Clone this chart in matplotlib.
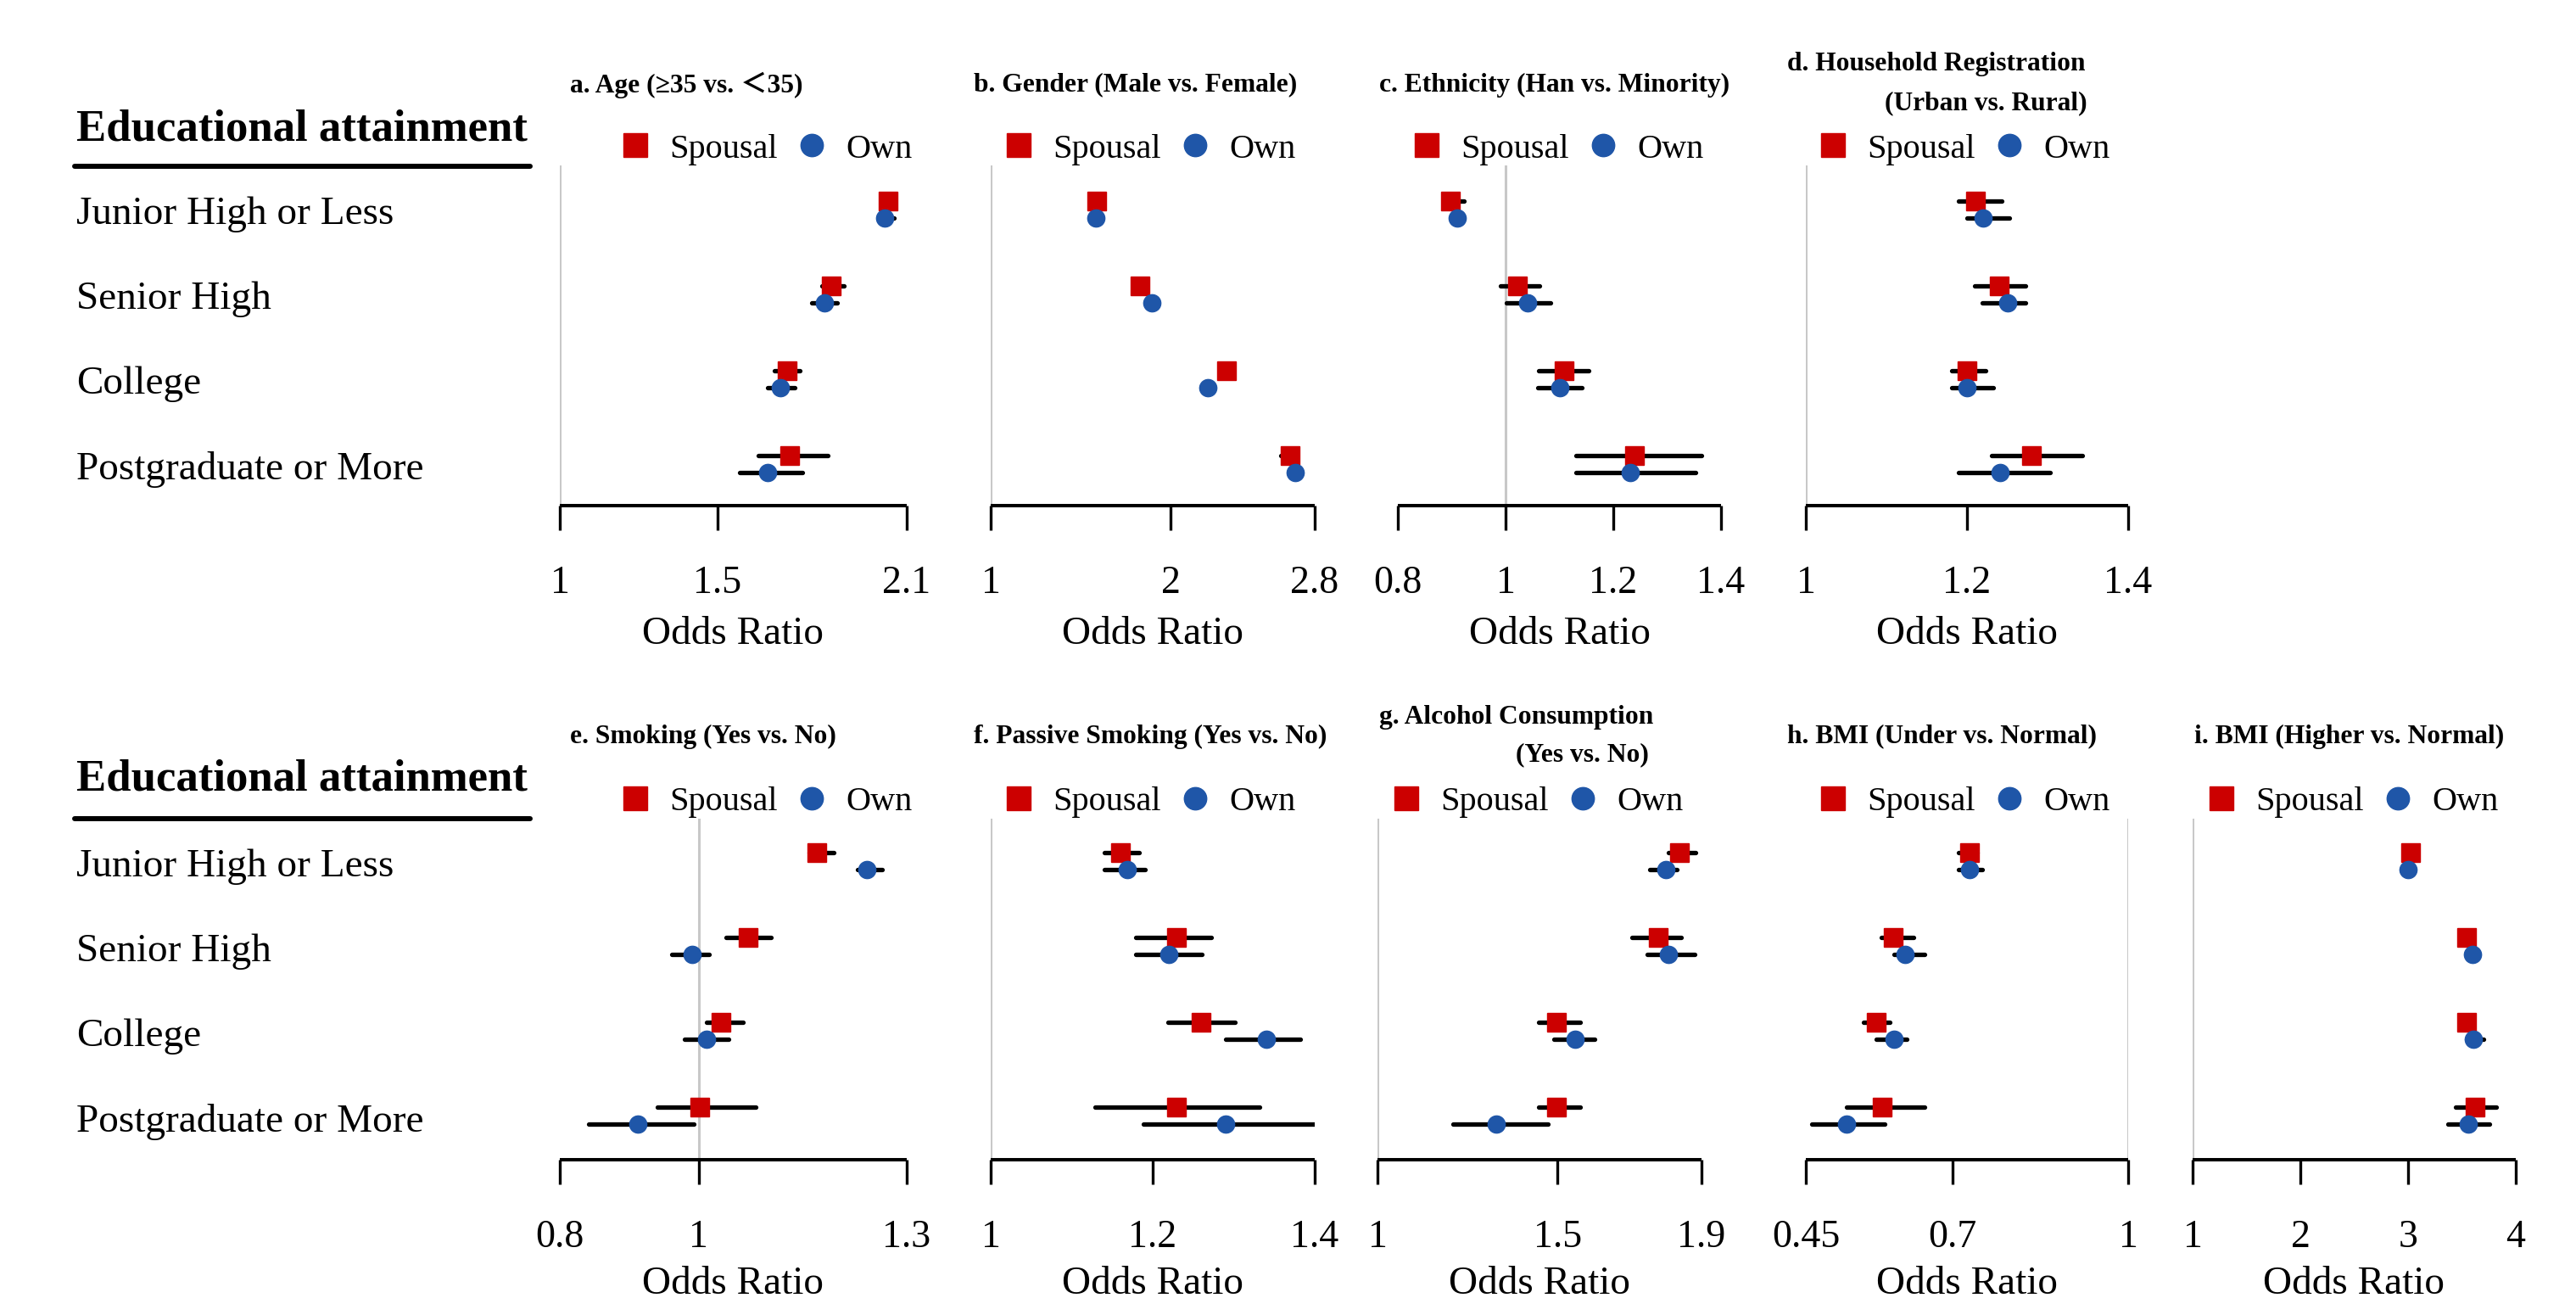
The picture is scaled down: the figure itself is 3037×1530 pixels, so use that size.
import matplotlib
matplotlib.use('Agg')
import matplotlib.pyplot as plt
from matplotlib.lines import Line2D

plt.rcParams['font.family'] = ['Liberation Serif', 'Noto Sans CJK SC', 'DejaVu Serif']

# ---------------- data ----------------
categories = ["Junior High or Less", "Senior High", "College", "Postgraduate or More"]

age_spousal = [2.04, 1.86, 1.72, 1.73]
age_spousal_lo = [2.02, 1.83, 1.68, 1.63]
age_spousal_hi = [2.06, 1.90, 1.76, 1.85]
age_own = [2.03, 1.84, 1.70, 1.66]
age_own_lo = [2.01, 1.80, 1.66, 1.57]
age_own_hi = [2.06, 1.88, 1.745, 1.77]

gender_spousal = [1.59, 1.83, 2.31, 2.665]
gender_spousal_lo = [1.57, 1.81, 2.29, 2.61]
gender_spousal_hi = [1.61, 1.85, 2.33, 2.69]
gender_own = [1.583, 1.894, 2.205, 2.69]
gender_own_lo = [1.56, 1.87, 2.18, 2.67]
gender_own_hi = [1.60, 1.92, 2.23, 2.71]

ethnicity_spousal = [0.898, 1.022, 1.109, 1.239]
ethnicity_spousal_lo = [0.885, 0.99, 1.062, 1.13]
ethnicity_spousal_hi = [0.923, 1.063, 1.154, 1.363]
ethnicity_own = [0.91, 1.041, 1.101, 1.231]
ethnicity_own_lo = [0.90, 1.002, 1.06, 1.13]
ethnicity_own_hi = [0.92, 1.084, 1.142, 1.353]

hukou_spousal = [1.21, 1.24, 1.20, 1.28]
hukou_spousal_lo = [1.189, 1.209, 1.181, 1.23]
hukou_spousal_hi = [1.243, 1.273, 1.223, 1.343]
hukou_own = [1.22, 1.25, 1.20, 1.241]
hukou_own_lo = [1.20, 1.219, 1.181, 1.189]
hukou_own_hi = [1.253, 1.273, 1.233, 1.303]

smoking_spousal = [1.171, 1.071, 1.032, 1.002]
smoking_spousal_lo = [1.16, 1.04, 1.011, 0.94]
smoking_spousal_hi = [1.195, 1.105, 1.064, 1.083]
smoking_own = [1.242, 0.991, 1.012, 0.912]
smoking_own_lo = [1.229, 0.961, 0.98, 0.841]
smoking_own_hi = [1.264, 1.015, 1.043, 0.993]

passive_spousal = [1.16, 1.229, 1.26, 1.229]
passive_spousal_lo = [1.14, 1.179, 1.219, 1.129]
passive_spousal_hi = [1.183, 1.272, 1.302, 1.332]
passive_own = [1.169, 1.22, 1.34, 1.29]
passive_own_lo = [1.14, 1.179, 1.29, 1.189]
passive_own_hi = [1.191, 1.261, 1.382, 1.401]

alcohol_spousal = [1.839, 1.779, 1.498, 1.498]
alcohol_spousal_lo = [1.809, 1.707, 1.448, 1.448]
alcohol_spousal_hi = [1.884, 1.844, 1.562, 1.562]
alcohol_own = [1.80, 1.809, 1.55, 1.331]
alcohol_own_lo = [1.756, 1.749, 1.49, 1.21]
alcohol_own_hi = [1.832, 1.881, 1.602, 1.474]

bmi_under_spousal = [0.729, 0.599, 0.57, 0.58]
bmi_under_spousal_lo = [0.71, 0.579, 0.548, 0.519]
bmi_under_spousal_hi = [0.742, 0.634, 0.593, 0.653]
bmi_under_own = [0.73, 0.619, 0.60, 0.519]
bmi_under_own_lo = [0.71, 0.60, 0.57, 0.46]
bmi_under_own_hi = [0.751, 0.653, 0.622, 0.584]

bmi_high_spousal = [3.024, 3.546, 3.546, 3.619]
bmi_high_spousal_lo = [3.0, 3.52, 3.52, 3.44]
bmi_high_spousal_hi = [3.05, 3.57, 3.57, 3.817]
bmi_high_own = [2.998, 3.598, 3.608, 3.556]
bmi_high_own_lo = [2.97, 3.57, 3.54, 3.374]
bmi_high_own_hi = [3.02, 3.63, 3.70, 3.755]

age_ticks = [1, 1.5, 2.1]
age_ticklabels = ["1", "1.5", "2.1"]
gender_ticks = [1, 2, 2.8]
gender_ticklabels = ["1", "2", "2.8"]
ethnicity_ticks = [0.8, 1, 1.2, 1.4]
ethnicity_ticklabels = ["0.8", "1", "1.2", "1.4"]
hukou_ticks = [1, 1.2, 1.4]
hukou_ticklabels = ["1", "1.2", "1.4"]
smoking_ticks = [0.8, 1, 1.3]
smoking_ticklabels = ["0.8", "1", "1.3"]
passive_ticks = [1, 1.2, 1.4]
passive_ticklabels = ["1", "1.2", "1.4"]
alcohol_ticks = [1, 1.5, 1.9]
alcohol_ticklabels = ["1", "1.5", "1.9"]
bmi_under_ticks = [0.45, 0.7, 1]
bmi_under_ticklabels = ["0.45", "0.7", "1"]
bmi_high_ticks = [1, 2, 3, 4]
bmi_high_ticklabels = ["1", "2", "3", "4"]

# ---------------- layout ----------------
W, H = 3037, 1530
RED = '#CC0000'
BLUE = '#1F56A8'
fig = plt.figure(figsize=(W / 100, H / 100), dpi=100)


def fx(x):
    return x / W


def fy(y):
    return 1 - y / H


panels = [
    dict(row=0, l=660, r=1069, titles=[("a. Age (\u226535 vs. \uff1c35)", 672, 100)], lc=905,
         s=(age_spousal, age_spousal_lo, age_spousal_hi), o=(age_own, age_own_lo, age_own_hi),
         t=(age_ticks, age_ticklabels)),
    dict(row=0, l=1168, r=1550, titles=[("b. Gender (Male vs. Female)", 1148, 100)], lc=1357,
         s=(gender_spousal, gender_spousal_lo, gender_spousal_hi), o=(gender_own, gender_own_lo, gender_own_hi),
         t=(gender_ticks, gender_ticklabels)),
    dict(row=0, l=1648, r=2029, titles=[("c. Ethnicity (Han vs. Minority)", 1626, 100)], lc=1838,
         s=(ethnicity_spousal, ethnicity_spousal_lo, ethnicity_spousal_hi),
         o=(ethnicity_own, ethnicity_own_lo, ethnicity_own_hi),
         t=(ethnicity_ticks, ethnicity_ticklabels)),
    dict(row=0, l=2129, r=2509, titles=[("d. Household Registration", 2107, 76), ("(Urban vs. Rural)", 2222, 122)],
         lc=2317,
         s=(hukou_spousal, hukou_spousal_lo, hukou_spousal_hi), o=(hukou_own, hukou_own_lo, hukou_own_hi),
         t=(hukou_ticks, hukou_ticklabels)),
    dict(row=1, l=660, r=1069, titles=[("e. Smoking (Yes vs. No)", 672, 868)], lc=905,
         s=(smoking_spousal, smoking_spousal_lo, smoking_spousal_hi),
         o=(smoking_own, smoking_own_lo, smoking_own_hi),
         t=(smoking_ticks, smoking_ticklabels)),
    dict(row=1, l=1168, r=1550, titles=[("f. Passive Smoking (Yes vs. No)", 1148, 868)], lc=1357,
         s=(passive_spousal, passive_spousal_lo, passive_spousal_hi),
         o=(passive_own, passive_own_lo, passive_own_hi),
         t=(passive_ticks, passive_ticklabels)),
    dict(row=1, l=1624, r=2006, titles=[("g. Alcohol Consumption", 1626, 845), ("(Yes vs. No)", 1787, 890)], lc=1814,
         s=(alcohol_spousal, alcohol_spousal_lo, alcohol_spousal_hi),
         o=(alcohol_own, alcohol_own_lo, alcohol_own_hi),
         t=(alcohol_ticks, alcohol_ticklabels)),
    dict(row=1, l=2129, r=2509, titles=[("h. BMI (Under vs. Normal)", 2107, 868)], lc=2317,
         s=(bmi_under_spousal, bmi_under_spousal_lo, bmi_under_spousal_hi),
         o=(bmi_under_own, bmi_under_own_lo, bmi_under_own_hi),
         t=(bmi_under_ticks, bmi_under_ticklabels)),
    dict(row=1, l=2585, r=2966, titles=[("i. BMI (Higher vs. Normal)", 2587, 868)], lc=2775,
         s=(bmi_high_spousal, bmi_high_spousal_lo, bmi_high_spousal_hi),
         o=(bmi_high_own, bmi_high_own_lo, bmi_high_own_hi),
         t=(bmi_high_ticks, bmi_high_ticklabels)),
]

rows = [
    dict(top=195, bottom=596, ylim=(3.49, -0.52), title_y=152, line_y=196, leg_y=176,
         lab_y=[253, 353, 453, 553], or_y=748),
    dict(top=965, bottom=1367, ylim=(3.52, -0.5), title_y=919, line_y=965, leg_y=945,
         lab_y=[1022, 1122, 1222, 1322], or_y=1514),
]

OFF = 0.1
for p in panels:
    rw = rows[p['row']]
    ax = fig.add_axes([fx(p['l']), fy(rw['bottom']), (p['r'] - p['l']) / W, (rw['bottom'] - rw['top']) / H])
    ticks, ticklabels = p['t']
    ax.set_xlim(ticks[0], ticks[-1])
    ax.set_ylim(*rw['ylim'])
    ax.axvline(1, color='#C8C8C8', lw=2.2, zorder=0)
    ypos = list(range(len(categories)))
    sv, slo, shi = p['s']
    ov, olo, ohi = p['o']
    ys = [y - OFF for y in ypos]
    yo = [y + OFF for y in ypos]
    ax.hlines(ys, slo, shi, color='black', lw=3.8, capstyle='round', zorder=2)
    ax.hlines(yo, olo, ohi, color='black', lw=3.8, capstyle='round', zorder=2)
    ax.plot(sv, ys, ls='none', marker='s', ms=15.6, color=RED, mec=RED, zorder=3, clip_on=False)
    ax.plot(ov, yo, ls='none', marker='o', ms=14.6, color=BLUE, mec=BLUE, zorder=3, clip_on=False)
    for side in ['top', 'right', 'left']:
        ax.spines[side].set_visible(False)
    ax.spines['bottom'].set_linewidth(2.9)
    ax.spines['bottom'].set_capstyle('butt')
    ax.set_yticks([])
    ax.set_xticks(ticks)
    ax.set_xticklabels(ticklabels, fontsize=33)
    ax.tick_params(axis='x', length=21, width=2.4, pad=30, direction='out')
    ax.patch.set_alpha(0)
    fig.text(fx((p['l'] + p['r']) / 2), fy(rw['or_y']), "Odds Ratio", fontsize=34, ha='center', va='center')
    for (txt, tx, ty) in p['titles']:
        fig.text(fx(tx), fy(ty), txt, fontsize=22.7, fontweight='bold', ha='left', va='center')
    handles = [Line2D([], [], ls='none', marker='s', ms=20, color=RED, mec=RED),
               Line2D([], [], ls='none', marker='o', ms=19, color=BLUE, mec=BLUE)]
    ax.legend(handles, ["Spousal", "Own"], loc='center', ncol=2,
              bbox_to_anchor=(fx(p['lc']), fy(rw['leg_y'])), bbox_transform=fig.transFigure,
              frameon=False, fontsize=29, handlelength=0.7, handletextpad=0.65,
              columnspacing=0.65, borderpad=0, borderaxespad=0)

for rw in rows:
    fig.text(fx(90), fy(rw['title_y']), "Educational attainment", fontsize=38, fontweight='bold',
             ha='left', va='center')
    fig.add_artist(Line2D([fx(88), fx(625)], [fy(rw['line_y']), fy(rw['line_y'])], color='black', lw=4.3,
                          solid_capstyle='round', transform=fig.transFigure))
    for cat, ly in zip(categories, rw['lab_y']):
        fig.text(fx(90), fy(ly), cat, fontsize=34, ha='left', va='center')

fig.savefig('out.png', dpi=100, facecolor='white')
